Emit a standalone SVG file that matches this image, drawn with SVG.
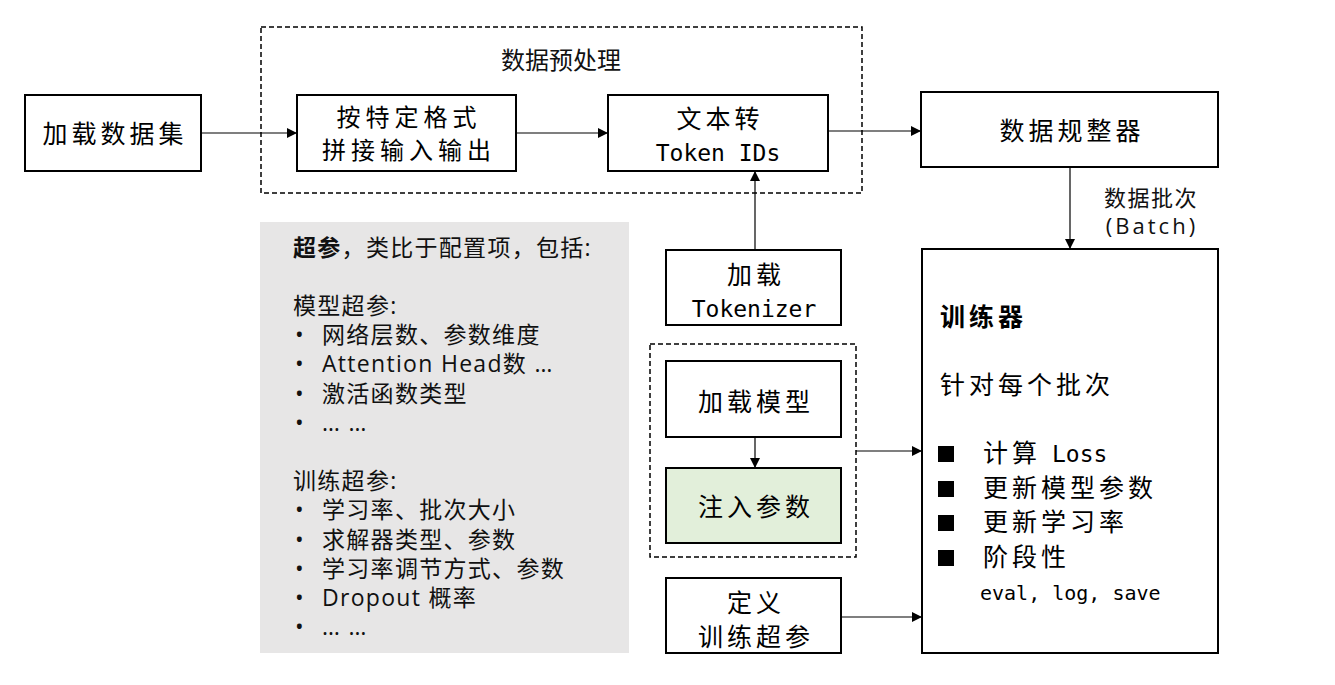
<svg xmlns="http://www.w3.org/2000/svg" width="1335" height="685" viewBox="0 0 1335 685">
<defs>
<marker id="arr" viewBox="0 0 10 10" refX="10" refY="5" markerWidth="10" markerHeight="10" markerUnits="userSpaceOnUse" orient="auto">
<path d="M0,0 L10,5 L0,10 Z" fill="#000"/>
</marker>
<style>
.box{fill:#fff;stroke:#000;stroke-width:2}
.dash{fill:none;stroke:#000;stroke-width:1.5;stroke-dasharray:5,3}
.cn{font-family:"Noto Sans CJK SC","DejaVu Sans",sans-serif;font-size:25px;letter-spacing:4px;fill:#000}
.mono{font-family:"DejaVu Sans Mono","Liberation Mono","Noto Sans CJK SC",monospace;font-size:23px;fill:#000}
.ys{font-family:"Open Sans","Noto Sans CJK SC",sans-serif;font-size:23px;letter-spacing:1.3px;fill:#111}
.lbl{font-family:"Open Sans","Noto Sans CJK SC",sans-serif;font-size:22px;fill:#111}
.c{text-anchor:middle}
.con{stroke:#000;stroke-width:1.2;fill:none;marker-end:url(#arr)}
</style>
</defs>
<rect width="1335" height="685" fill="#fff"/>

<g id="preprocess">
<rect class="dash" x="261" y="27" width="601" height="166"/>
<text class="lbl c" x="561" y="69" style="font-size:24px">数据预处理</text>
</g>

<g id="load-dataset">
<rect class="box" x="25" y="95" width="176" height="76"/>
<text class="cn c" x="115" y="143">加载数据集</text>
</g>

<g id="format">
<rect class="box" x="297" y="95" width="219" height="76"/>
<text class="cn c" x="409" y="126" style="font-size:24px;letter-spacing:5px">按特定格式</text>
<text class="cn c" x="409" y="159" style="font-size:24px;letter-spacing:5px">拼接输入输出</text>
</g>

<g id="tokenize">
<rect class="box" x="608" y="95" width="220" height="76"/>
<text class="cn c" x="720" y="128">文本转</text>
<text class="mono c" x="718" y="161">Token IDs</text>
</g>

<g id="collator">
<rect class="box" x="921" y="92" width="297" height="75"/>
<text class="cn c" x="1072" y="140">数据规整器</text>
</g>

<g id="batch-label">
<text class="lbl c" x="1151" y="206" letter-spacing="1.5">数据批次</text>
<text class="lbl c" x="1152" y="234" letter-spacing="3">(Batch)</text>
</g>

<g id="hyperparams">
<rect x="260" y="222" width="369" height="431" fill="#e7e6e6"/>
<text class="ys" x="293" y="256"><tspan font-weight="bold">超参</tspan>，类比于配置项，包括:</text>
<text class="ys" x="293" y="314">模型超参:</text>
<text class="ys" x="295" y="343">•</text><text class="ys" x="322" y="343">网络层数、参数维度</text>
<text class="ys" x="295" y="372">•</text><text class="ys" x="322" y="372">Attention Head数 …</text>
<text class="ys" x="295" y="402">•</text><text class="ys" x="322" y="402">激活函数类型</text>
<text class="ys" x="295" y="431">•</text><text class="ys" x="322" y="431">… …</text>
<text class="ys" x="293" y="489">训练超参:</text>
<text class="ys" x="295" y="518">•</text><text class="ys" x="322" y="518">学习率、批次大小</text>
<text class="ys" x="295" y="548">•</text><text class="ys" x="322" y="548">求解器类型、参数</text>
<text class="ys" x="295" y="577">•</text><text class="ys" x="322" y="577">学习率调节方式、参数</text>
<text class="ys" x="295" y="606">•</text><text class="ys" x="322" y="606">Dropout 概率</text>
<text class="ys" x="295" y="635">•</text><text class="ys" x="322" y="635">… …</text>
</g>

<g id="load-tokenizer">
<rect class="box" x="666" y="250" width="175" height="75"/>
<text class="cn c" x="756" y="284">加载</text>
<text class="mono c" x="754" y="317">Tokenizer</text>
</g>

<g id="model-group">
<rect class="dash" x="650" y="344" width="206" height="213"/>
</g>

<g id="load-model">
<rect class="box" x="666" y="361" width="175" height="76"/>
<text class="cn c" x="756" y="411">加载模型</text>
</g>

<g id="inject">
<rect class="box" x="666" y="468" width="175" height="75" style="fill:#e2efda"/>
<text class="cn c" x="756" y="516">注入参数</text>
</g>

<g id="define-hp">
<rect class="box" x="666" y="578" width="175" height="75"/>
<text class="cn c" x="756" y="612">定义</text>
<text class="cn c" x="756" y="646">训练超参</text>
</g>

<g id="trainer">
<rect class="box" x="922" y="249" width="296" height="404"/>
<text class="cn" x="940" y="326" font-weight="bold">训练器</text>
<text class="cn" x="940" y="394">针对每个批次</text>
<rect x="938" y="446" width="16" height="16" fill="#000"/>
<rect x="938" y="481" width="16" height="16" fill="#000"/>
<rect x="938" y="515" width="16" height="16" fill="#000"/>
<rect x="938" y="550" width="16" height="16" fill="#000"/>
<text x="983" y="462"><tspan class="cn">计算</tspan><tspan class="mono" x="1052">Loss</tspan></text>
<text class="cn" x="983" y="497">更新模型参数</text>
<text class="cn" x="983" y="531">更新学习率</text>
<text class="cn" x="983" y="566">阶段性</text>
<text class="mono" x="980" y="600" style="font-size:20px">eval, log, save</text>
</g>

<g id="connectors">
<line class="con" x1="201" y1="133" x2="297" y2="133"/>
<line class="con" x1="516" y1="133" x2="608" y2="133"/>
<line class="con" x1="828" y1="131" x2="921" y2="131"/>
<line class="con" x1="1070" y1="167" x2="1070" y2="249"/>
<line class="con" x1="755" y1="250" x2="755" y2="171"/>
<line class="con" x1="755" y1="437" x2="755" y2="468"/>
<line class="con" x1="856" y1="451" x2="922" y2="451"/>
<line class="con" x1="841" y1="617" x2="922" y2="617"/>
</g>
</svg>
